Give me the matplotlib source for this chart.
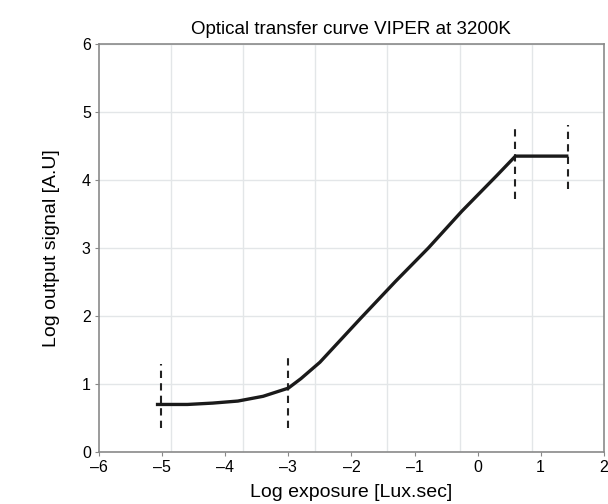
import numpy as np
import matplotlib.pyplot as plt

# curve
exposure = [-5.1, -4.6, -4.2, -3.8, -3.4, -3.0, -2.8, -2.5, -1.85, -1.3, -0.78, -0.25, 0.3, 0.6, 1.44]
signal = [0.70, 0.70, 0.72, 0.75, 0.82, 0.94, 1.08, 1.32, 1.97, 2.51, 3.0, 3.54, 4.06, 4.35, 4.35]

# dashed markers
mark_x = [-5.02, -3.0, 0.6, 1.44]
mark_lo = [0.35, 0.35, 3.72, 3.87]
mark_hi = [1.29, 1.42, 4.8, 4.8]

xticks = [-6, -5, -4, -3, -2, -1, 0, 1, 2]
yticks = [0, 1, 2, 3, 4, 5, 6]

plt.rcParams['font.family'] = ['Liberation Sans', 'DejaVu Sans']

fig = plt.figure(figsize=(6.08, 5.04), dpi=100)
ax = fig.add_axes([0.163, 0.103, 0.830, 0.810])

ax.set_xlim(-6, 2)
ax.set_ylim(0, 6)
ax.set_xticks(xticks)
ax.set_yticks(yticks)
ax.set_xticklabels([str(t).replace('-', '\u2013') for t in xticks])
# vertical grid in the original splits the box into 7, not on the ticks
ax.set_xticks(np.linspace(-6, 2, 8), minor=True)
ax.grid(True, which='minor', axis='x', color='#e3e6e8', lw=1)
ax.grid(True, which='major', axis='y', color='#e3e6e8', lw=1)
ax.tick_params(which='minor', length=0)
ax.tick_params(which='major', length=3, color='#888888', labelsize=11.5, pad=3)
for s in ax.spines.values():
    s.set_color('#8a8a8a')
    s.set_linewidth(1.2)

ax.vlines(mark_x, mark_lo, mark_hi, colors='#222222', linestyles=(0, (3.5, 2.5)), lw=1.5)
ax.plot(exposure, signal, color='#1a1a1a', lw=2.4, solid_capstyle='butt')

ax.set_title('Optical transfer curve VIPER at 3200K', fontsize=13.5, pad=7)
ax.set_xlabel('Log exposure [Lux.sec]', fontsize=14, labelpad=6)
ax.set_ylabel('Log output signal [A.U]', fontsize=14, labelpad=16)

fig.savefig('out.png', dpi=100)
